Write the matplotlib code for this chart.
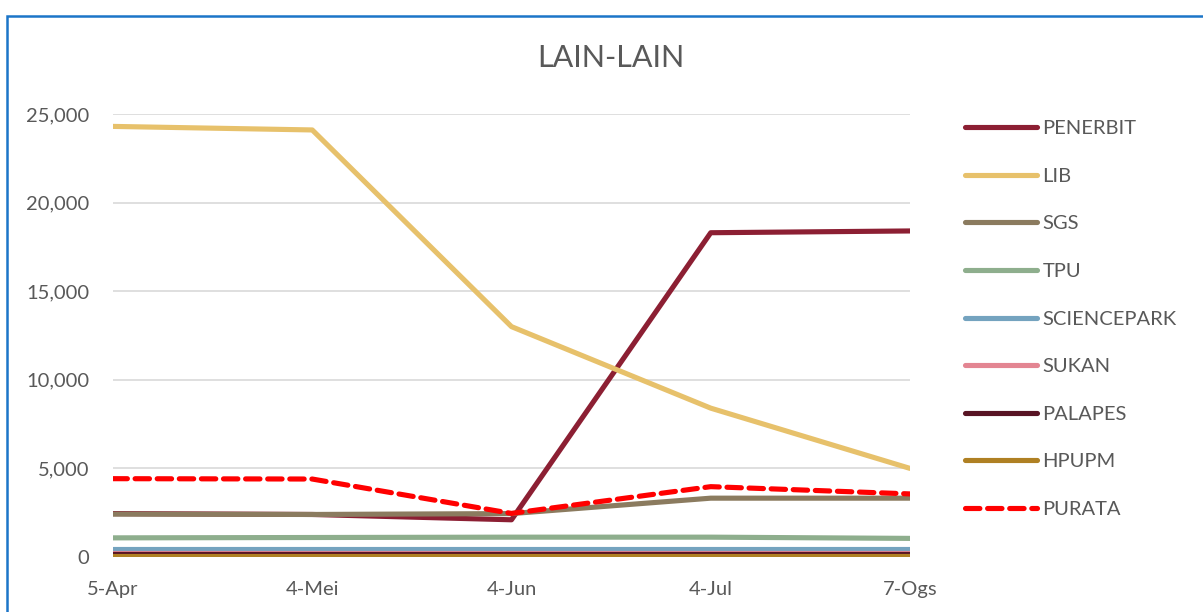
import matplotlib.pyplot as plt
from matplotlib.patches import Rectangle

plt.rcParams['font.family'] = ['Lato', 'DejaVu Sans']

dates = ["5-Apr", "4-Mei", "4-Jun", "4-Jul", "7-Ogs"]

penerbit = [2450, 2400, 2100, 18300, 18400]
lib = [24300, 24100, 13000, 8400, 5000]
sgs = [2420, 2400, 2450, 3320, 3320]
tpu = [1080, 1100, 1120, 1120, 1050]
sciencepark = [450, 450, 450, 450, 450]
sukan = [250, 250, 250, 250, 250]
palapes = [150, 150, 150, 150, 150]
hpupm = [30, 30, 30, 30, 30]
purata = [4420, 4400, 2460, 3970, 3560]

series = [
    ("PENERBIT", penerbit, "#8C1F33"),
    ("LIB", lib, "#E7C16B"),
    ("SGS", sgs, "#8B7B5F"),
    ("TPU", tpu, "#8EAE8D"),
    ("SCIENCEPARK", sciencepark, "#74A3BF"),
    ("SUKAN", sukan, "#E38592"),
    ("PALAPES", palapes, "#581424"),
    ("HPUPM", hpupm, "#AF8023"),
]

text_color = "#595959"
W, H = 1203, 612

fig = plt.figure(figsize=(W / 100, H / 100), dpi=100)
ax = fig.add_axes([113 / W, 1 - 557 / H, (910 - 113) / W, (557 - 114) / H])

x = range(len(dates))
for name, values, color in series:
    ax.plot(x, values, color=color, linewidth=3.7, label=name,
            solid_capstyle="round", solid_joinstyle="round")
ax.plot(x, purata, color="#FF0000", linewidth=3.7, linestyle=(0, (2.8, 1.5)),
        label="PURATA", dash_capstyle="round")

ax.set_xlim(0, len(dates) - 1)
ax.set_ylim(0, 25000)
ax.set_yticks(range(0, 25001, 5000))
ax.set_yticklabels([f"{v:,}" for v in range(0, 25001, 5000)])
ax.set_xticks(list(x))
ax.set_xticklabels(dates)
ax.tick_params(axis="both", length=0, labelsize=14.5, colors=text_color)
ax.tick_params(axis="x", pad=17)
ax.tick_params(axis="y", pad=17)
ax.grid(axis="y", color="#D9D9D9", linewidth=1.2)
ax.set_axisbelow(True)
for spine in ax.spines.values():
    spine.set_visible(False)

fig.text(611 / W, 1 - 58 / H, "LAIN-LAIN", ha="center", va="center",
         fontsize=22, color=text_color)

leg = ax.legend(loc="upper left", bbox_to_anchor=(957 / W, 1 - 112 / H),
                bbox_transform=fig.transFigure, frameon=False,
                fontsize=14.5, labelcolor=text_color, handlelength=3.55,
                handletextpad=0.3, labelspacing=1.515, borderaxespad=0)

# chart frame (selection border)
fig.patches.append(Rectangle((6.5 / W, -0.1), 1.2, 1 - 15.5 / H + 0.1,
                             transform=fig.transFigure, fill=False,
                             edgecolor="#1C75C8", linewidth=1.8))

fig.savefig("out.png", dpi=100)
plt.close(fig)
